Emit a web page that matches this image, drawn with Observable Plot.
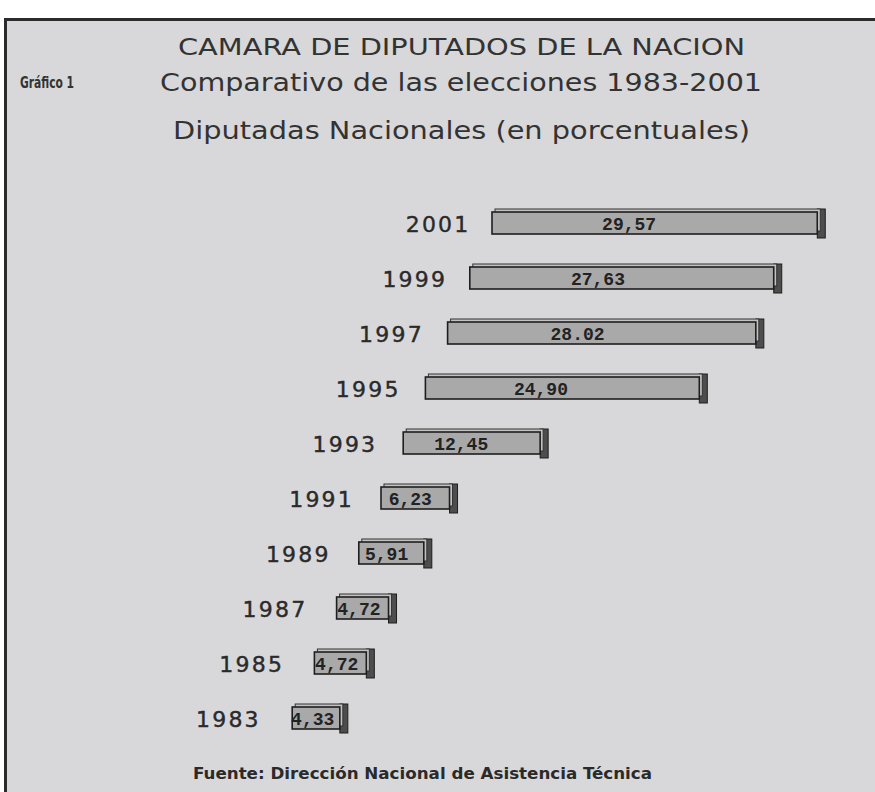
<!DOCTYPE html>
<html>
<head>
<meta charset="utf-8">
<script src="https://cdn.jsdelivr.net/npm/d3@7"></script>
<script src="https://cdn.jsdelivr.net/npm/@observablehq/plot@0.6"></script>
<style>
  html, body { margin: 0; padding: 0; background: #ffffff; }
  #page { position: relative; width: 875px; height: 792px; overflow: hidden; background: #ffffff; }
  #frame { position: absolute; left: 4px; top: 18px; width: 871px; height: 774px;
           background: #d8d8da; border-top: 3px solid #2b2b2b; border-left: 3px solid #2b2b2b; box-sizing: border-box; }
  #head { position: absolute; left: 0; top: 0; }
  #chart { position: absolute; left: 0; top: 160px; }
  #foot { position: absolute; left: 0; top: 750px; }
</style>
</head>
<body>
<div id="page">
  <div id="frame"></div>
  <svg id="head" width="875" height="160" xmlns="http://www.w3.org/2000/svg">
    <text x="178" y="55" textLength="567" lengthAdjust="spacingAndGlyphs" font-family="DejaVu Sans" font-size="23" fill="#333">CAMARA DE DIPUTADOS DE LA NACION</text>
    <text x="20" y="88" textLength="54" lengthAdjust="spacingAndGlyphs" font-family="DejaVu Sans Condensed" font-weight="bold" font-size="16" fill="#333">Gráfico 1</text>
    <text x="160" y="91" textLength="602" lengthAdjust="spacingAndGlyphs" font-family="DejaVu Sans" font-size="25" fill="#333">Comparativo de las elecciones 1983-2001</text>
    <text x="173" y="139" textLength="577" lengthAdjust="spacingAndGlyphs" font-family="DejaVu Sans" font-size="25" fill="#333">Diputadas Nacionales (en porcentuales)</text>
  </svg>
  <div id="chart"></div>
  <svg id="foot" width="875" height="42" xmlns="http://www.w3.org/2000/svg">
    <text x="193" y="29" textLength="459" lengthAdjust="spacingAndGlyphs" font-family="DejaVu Sans Condensed" font-weight="bold" font-size="15" fill="#2a2a2a">Fuente: Dirección Nacional de Asistencia Técnica</text>
  </svg>
</div>
<script>
// Data (top to bottom)
const years  = ["2001", "1999", "1997", "1995", "1993", "1991", "1989", "1987", "1985", "1983"];
const values = [29.57, 27.63, 28.02, 24.90, 12.45, 6.23, 5.91, 4.72, 4.72, 4.33];
const labels = ["29,57", "27,63", "28.02", "24,90", "12,45", "6,23", "5,91", "4,72", "4,72", "4,33"];

const rows = years.map((year, i) => ({year, value: values[i], label: labels[i], i}));

const barShift = -22.2;   // perspective skew of the original drawing (bars)
const labelShift = -23.3; // perspective skew (year labels)
const marks = [];
for (const d of rows) {
  const s = d.i * barShift;
  // right side face (dark)
  marks.push(Plot.barX([d], {x1: "value", x2: "value", y: "year", dx: s,
    insetLeft: 0, insetRight: -8, insetTop: -3, insetBottom: -4,
    fill: "#4d4d4d", stroke: "#1e1e1e", strokeWidth: 1}));
  // top face
  marks.push(Plot.barX([d], {x: "value", y: "year", dx: s + 3, dy: -3,
    fill: "#c2c2c2", stroke: "#333", strokeWidth: 1}));
  // front face
  marks.push(Plot.barX([d], {x: "value", y: "year", dx: s,
    fill: "#a9a9a9", stroke: "#1e1e1e", strokeWidth: 1.6}));
  // value label
  marks.push(Plot.text([d], {x: r => r.value * 0.42, y: "year", text: "label", dx: s, dy: 1,
    fontFamily: "Liberation Mono", fontWeight: "bold", fontSize: 18, fill: "#222"}));
  // year label
  marks.push(Plot.text([d], {x: () => 0, y: "year", text: "year", dx: d.i * labelShift - 22, dy: 1,
    textAnchor: "end", fontFamily: "DejaVu Sans", fontSize: 22, fill: "#2a2a2a"}));
}

const chart = Plot.plot({
  width: 875,
  height: 590,
  margin: 0,
  style: {background: "transparent", overflow: "visible"},
  x: {domain: [0, 30], range: [492, 822], axis: null},
  y: {type: "band", domain: years, range: [49, 571.4], paddingInner: 0.604, paddingOuter: 0, axis: null},
  marks
});
// widen the year labels as in the original lettering
d3.select(chart).selectAll("text").filter(function() { return /^\d{4}$/.test(this.textContent); })
  .style("letter-spacing", "2.2px").style("stroke", "#2a2a2a").style("stroke-width", "0.4px");
document.getElementById("chart").appendChild(chart);
</script>
</body>
</html>
